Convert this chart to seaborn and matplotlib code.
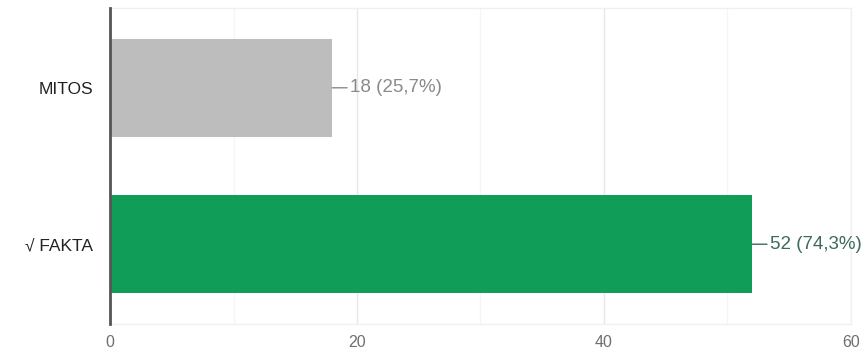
import matplotlib
matplotlib.use("Agg")
import matplotlib.pyplot as plt
import seaborn as sns
import pandas as pd

categories = ["MITOS", "√ FAKTA"]
counts = [18, 52]
percent_labels = ["25,7%", "74,3%"]
bar_colors = ["#bdbdbd", "#0f9d58"]
label_colors = ["#8a8a8a", "#3d6b58"]
x_ticks = [0, 20, 40, 60]

sns.set_theme(style="white")
plt.rcParams["font.family"] = ["Liberation Sans", "DejaVu Sans"]

df = pd.DataFrame({"category": categories, "count": counts})

fig = plt.figure(figsize=(8.67, 3.56), dpi=100)
ax = fig.add_axes([0.1269, 0.0899, 0.9815 - 0.1269, 0.9775 - 0.0899])

sns.barplot(data=df, x="count", y="category", hue="category",
            palette=bar_colors, width=0.63, ax=ax, legend=False,
            saturation=1, edgecolor="none")

ax.set_xlim(0, 60)
ax.set_ylim(1.51, -0.51)
ax.set_xticks(x_ticks)
ax.set_xticks([10, 30, 50], minor=True)
ax.grid(True, axis="x", which="major", color="#e8e8e8", linewidth=1)
ax.grid(True, axis="x", which="minor", color="#f5f5f5", linewidth=1)
ax.set_axisbelow(True)
ax.set_xlabel("")
ax.set_ylabel("")

for s in ["top", "bottom", "right"]:
    ax.spines[s].set_color("#f0f0f0")
    ax.spines[s].set_linewidth(1)
ax.spines["left"].set_color("#555555")
ax.spines["left"].set_linewidth(2)
ax.spines["left"].set_zorder(5)

ax.tick_params(axis="x", which="both", length=0, labelsize=11.5,
               labelcolor="#6f6f6f", pad=8)
ax.tick_params(axis="y", length=0, labelsize=12.5, labelcolor="#222222", pad=12)

for i, (c, p, col) in enumerate(zip(counts, percent_labels, label_colors)):
    ax.annotate(f"{c} ({p})", xy=(c, i), xytext=(13, 0),
                textcoords="offset points", va="center", ha="left",
                fontsize=13.5, color=col,
                arrowprops=dict(arrowstyle="-", color=col, lw=1,
                                shrinkA=0, shrinkB=0))

fig.savefig("out.png", dpi=100)
